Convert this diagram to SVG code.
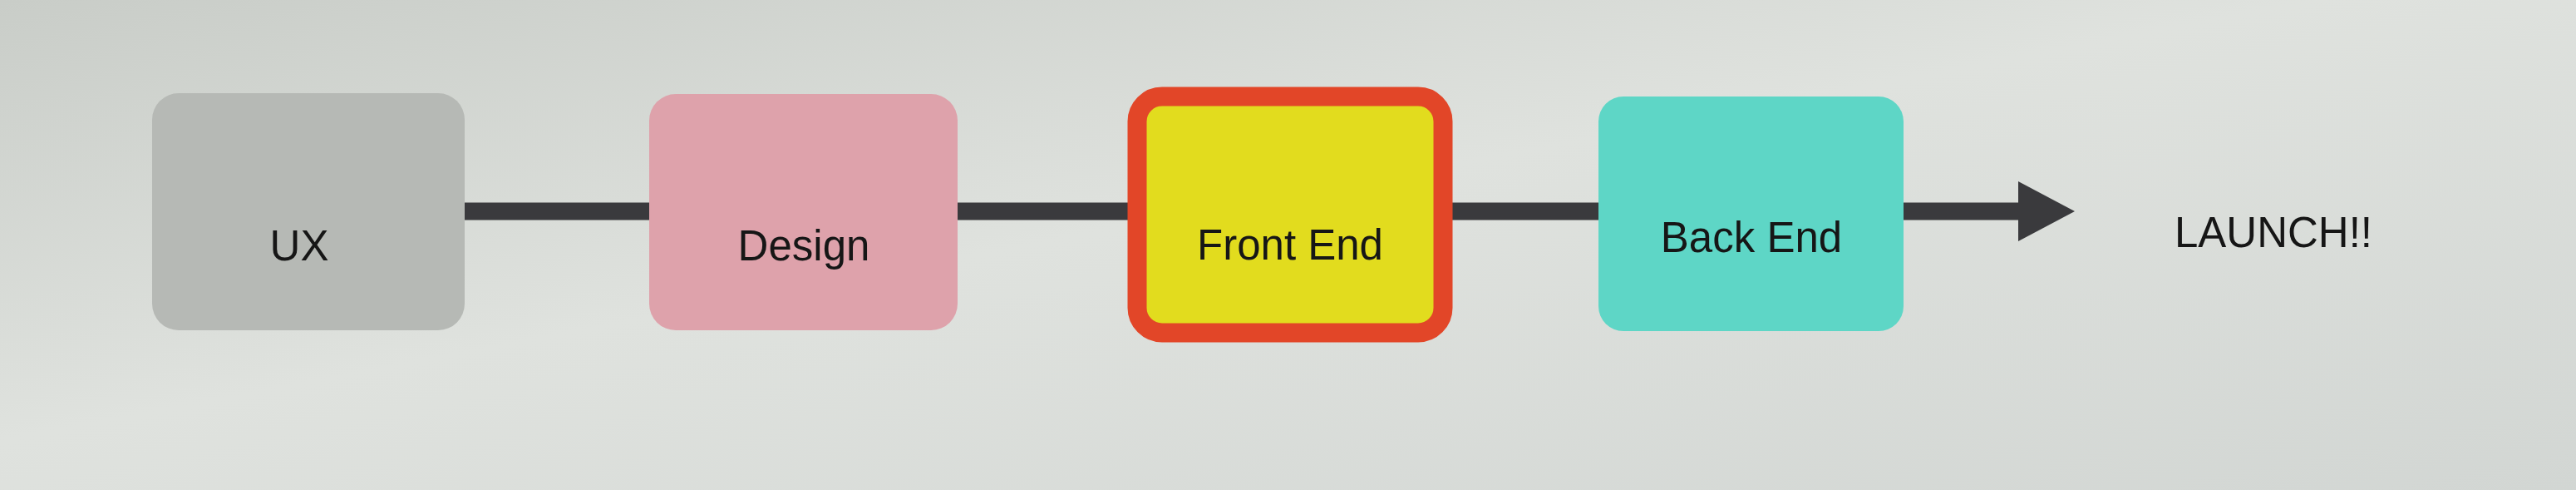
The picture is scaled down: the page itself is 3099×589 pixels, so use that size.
<svg xmlns="http://www.w3.org/2000/svg" width="3099" height="589" viewBox="0 0 3099 589">
  <style>
    .lbl { font-family: "Liberation Sans", Arial, sans-serif; font-size: 51px; fill: #161616; text-anchor: middle; }
    .conn { stroke: #3a3a3d; stroke-width: 21; fill: none; }
  </style>
  <defs>
    <linearGradient id="bg" x1="0" y1="0" x2="1" y2="1">
      <stop offset="0" stop-color="#c9cdc8"/>
      <stop offset="0.45" stop-color="#dfe2de"/>
      <stop offset="1" stop-color="#d2d6d3"/>
    </linearGradient>
    <marker id="head" markerUnits="userSpaceOnUse" markerWidth="70" markerHeight="72" refX="2" refY="36" orient="auto">
      <polygon points="0,0 68,36 0,72" fill="#3a3a3d"/>
    </marker>
  </defs>
  <rect x="0" y="0" width="3099" height="589" fill="url(#bg)"/>

  <g id="connectors">
    <path class="conn" d="M559,254 L2430,254" marker-end="url(#head)"/>
  </g>

  <g id="node-ux">
    <rect x="183" y="112" width="376" height="285" rx="32" fill="#b6b9b5"/>
    <text class="lbl" x="360" y="313" fill="#2a2a2a">UX</text>
  </g>

  <g id="node-design">
    <rect x="781" y="113" width="371" height="284" rx="32" fill="#dea2ab"/>
    <text class="lbl" x="967" y="313">Design</text>
  </g>

  <g id="node-frontend">
    <rect x="1368" y="116" width="368" height="284" rx="30" fill="#e2dc1e" stroke="#e24628" stroke-width="23"/>
    <text class="lbl" x="1552" y="312">Front End</text>
  </g>

  <g id="node-backend">
    <rect x="1923" y="116" width="367" height="282" rx="30" fill="#5ed6c6"/>
    <text class="lbl" x="2107" y="303">Back End</text>
  </g>

  <g id="node-launch">
    <text class="lbl" x="2735" y="297">LAUNCH!!</text>
  </g>
</svg>
